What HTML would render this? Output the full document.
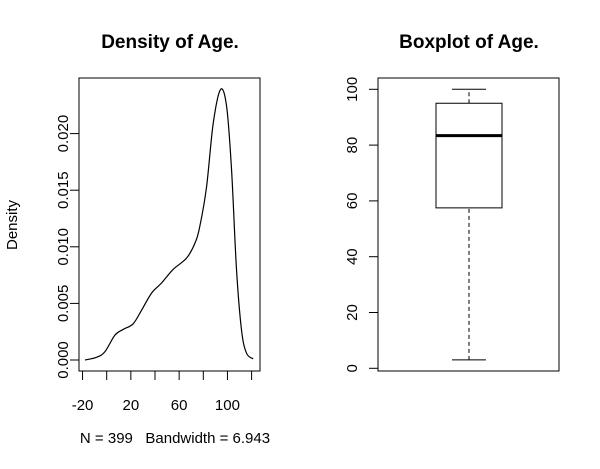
<!DOCTYPE html>
<html><head><meta charset="utf-8"><style>
body{margin:0;background:#fff;}
svg{display:block;font-family:"Liberation Sans",sans-serif;}
</style></head><body>
<svg id="c" width="600" height="469" xmlns="http://www.w3.org/2000/svg">
<rect width="600" height="469" fill="#fff"/>
<text x="170" y="48" font-size="19" font-weight="bold" text-anchor="middle">Density of Age.</text>
<text x="469" y="48" font-size="19" font-weight="bold" text-anchor="middle">Boxplot of Age.</text>
<text transform="translate(17,225) rotate(-90)" font-size="15" text-anchor="middle">Density</text>
<text x="175" y="443" font-size="15" text-anchor="middle" style="white-space:pre">N = 399   Bandwidth = 6.943</text>
<rect x="79" y="78" width="181" height="293" fill="none" stroke="#000"/>
<rect x="378" y="78" width="181" height="293" fill="none" stroke="#000"/>
<g id="left"></g><g id="right"></g>
</svg>
<script>
const ageVals=[-18,-8.4,-1.5,6.8,13.6,21.9,28.9,37.1,45.4,55,66.1,73,77.1,82.7,88.2,94.3,99.3,103.4,107.5,111.7,115.8,121.3];
const densVals=[0,0.00024,0.00073,0.0022,0.0027,0.0032,0.0044,0.0059,0.0068,0.0080,0.0090,0.0103,0.0118,0.0153,0.0209,0.0239,0.0224,0.0168,0.0080,0.0026,0.0006,0.0001];
const xTicks=[-20,0,20,40,60,80,100,120];
const xTickLabels=["-20","","20","","60","","100",""];
const yTicks=[0,0.005,0.010,0.015,0.020];
const yTickLabels=["0.000","0.005","0.010","0.015","0.020"];
const boxStats=[3,57.5,83.4,95,100];
const boxTicks=[0,20,40,60,80,100];
const NS="http://www.w3.org/2000/svg";
function mk(t,a,p){const e=document.createElementNS(NS,t);for(const k in a)e.setAttribute(k,a[k]);p.appendChild(e);return e;}
const L=document.getElementById('left'),R=document.getElementById('right');
const sx=v=>106.7+v*(24.15/20), sy=v=>360-v/0.005*56.6;
let ax=mk('line',{x1:sx(-20),x2:sx(120),y1:371,y2:371,stroke:'#000'},L);


xTicks.forEach((t,i)=>{
 const l=mk('line',{x1:sx(t),x2:sx(t),y1:371,y2:380,stroke:'#000'},L);
 
 
 if(xTickLabels[i]){const tx=mk('text',{x:sx(t),y:410,'font-size':15,'text-anchor':'middle'},L);tx.textContent=xTickLabels[i];
 
 }
});
yTicks.forEach((t,i)=>{
 const l=mk('line',{x1:70,x2:79,y1:sy(t),y2:sy(t),stroke:'#000'},L);
 
 
 const tx=mk('text',{transform:`translate(68,${sy(t)}) rotate(-90)`,'font-size':15,'text-anchor':'middle'},L);tx.textContent=yTickLabels[i];
 
 
});
const P=ageVals.map((a,i)=>[sx(a),sy(densVals[i])]);
let d=`M${P[0][0]},${P[0][1]}`;
for(let i=0;i<P.length-1;i++){const p0=P[Math.max(0,i-1)],p1=P[i],p2=P[i+1],p3=P[Math.min(P.length-1,i+2)];
 d+=` C${p1[0]+(p2[0]-p0[0])/6},${p1[1]+(p2[1]-p0[1])/6} ${p2[0]-(p3[0]-p1[0])/6},${p2[1]-(p3[1]-p1[1])/6} ${p2[0]},${p2[1]}`;}
const cv=mk('path',{d:d,fill:'none',stroke:'#000','stroke-width':1.2},L);


const by=v=>368.3-v*2.79;
boxTicks.forEach(t=>{
 const l=mk('line',{x1:369,x2:378,y1:by(t),y2:by(t),stroke:'#000'},R);
 
 
 const tx=mk('text',{transform:`translate(357,${by(t)}) rotate(-90)`,'font-size':15,'text-anchor':'middle'},R);tx.textContent=String(t);
 
 
});
const [mn,q1,med,q3,mx]=boxStats;
let w1=mk('line',{x1:469,x2:469,y1:by(mn),y2:by(q1),stroke:'#000','stroke-dasharray':'4,3'},R);


let w2=mk('line',{x1:469,x2:469,y1:by(q3),y2:by(mx),stroke:'#000','stroke-dasharray':'4,3'},R);


let c1=mk('line',{x1:452,x2:486,y1:by(mn),y2:by(mn),stroke:'#000'},R);


let c2=mk('line',{x1:452,x2:486,y1:by(mx),y2:by(mx),stroke:'#000'},R);


let bx=mk('rect',{x:436,y:by(q3),width:66,height:by(q1)-by(q3),fill:'#fff',stroke:'#000'},R);


let md=mk('line',{x1:436,x2:502,y1:by(med),y2:by(med),stroke:'#000','stroke-width':3},R);


</script>
</body></html>
